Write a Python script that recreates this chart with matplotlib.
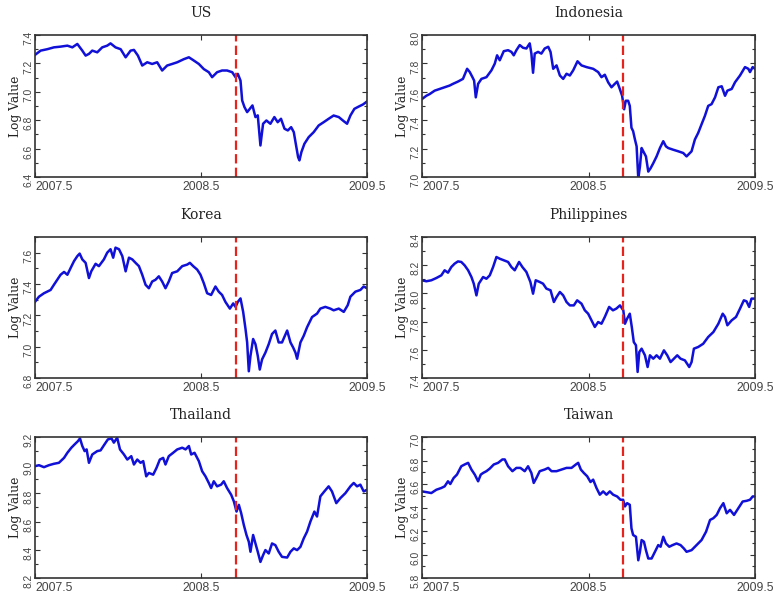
import matplotlib
matplotlib.use("Agg")
import matplotlib.pyplot as plt
from matplotlib.ticker import MultipleLocator, FormatStrFormatter

# Lehman collapse, marked on every panel
event_date = 2008.71

us_t = [2007.500, 2007.534, 2007.574, 2007.614, 2007.654, 2007.695, 2007.725, 2007.755, 2007.785, 2007.805,
        2007.825, 2007.845, 2007.875, 2007.905, 2007.935, 2007.955, 2007.985, 2008.016, 2008.046, 2008.076,
        2008.096, 2008.120, 2008.146, 2008.176, 2008.206, 2008.236, 2008.266, 2008.296, 2008.326, 2008.357,
        2008.397, 2008.427, 2008.457, 2008.487, 2008.517, 2008.547, 2008.567, 2008.597, 2008.627, 2008.657,
        2008.688, 2008.708, 2008.722, 2008.738, 2008.748, 2008.762, 2008.778, 2008.794, 2008.810, 2008.828,
        2008.842, 2008.858, 2008.874, 2008.894, 2008.918, 2008.942, 2008.962, 2008.982, 2009.003, 2009.023,
        2009.043, 2009.059, 2009.071, 2009.085, 2009.093, 2009.105, 2009.123, 2009.149, 2009.179, 2009.209,
        2009.239, 2009.269, 2009.299, 2009.330, 2009.360, 2009.380, 2009.400, 2009.424, 2009.450, 2009.476,
        2009.500]
us_v = [7.26, 7.29, 7.30, 7.313, 7.318, 7.325, 7.313, 7.337, 7.29, 7.255,
        7.267, 7.29, 7.278, 7.313, 7.325, 7.341, 7.313, 7.30, 7.243, 7.29,
        7.295, 7.255, 7.185, 7.208, 7.196, 7.208, 7.15, 7.185, 7.196, 7.208,
        7.23, 7.243, 7.22, 7.196, 7.16, 7.138, 7.103, 7.138, 7.15, 7.15,
        7.138, 7.103, 7.126, 7.079, 6.939, 6.892, 6.857, 6.88, 6.904, 6.822,
        6.834, 6.622, 6.775, 6.798, 6.775, 6.822, 6.786, 6.81, 6.74, 6.728,
        6.751, 6.716, 6.634, 6.54, 6.517, 6.576, 6.634, 6.681, 6.716, 6.763,
        6.786, 6.81, 6.833, 6.822, 6.793, 6.775, 6.833, 6.88, 6.896, 6.911,
        6.932]

ind_t = [2007.500, 2007.526, 2007.546, 2007.576, 2007.606, 2007.636, 2007.666, 2007.686, 2007.716, 2007.746,
         2007.771, 2007.787, 2007.803, 2007.813, 2007.823, 2007.837, 2007.857, 2007.887, 2007.917, 2007.937,
         2007.951, 2007.967, 2007.991, 2008.017, 2008.037, 2008.051, 2008.067, 2008.087, 2008.107, 2008.127,
         2008.147, 2008.157, 2008.167, 2008.177, 2008.197, 2008.217, 2008.237, 2008.258, 2008.272, 2008.288,
         2008.308, 2008.328, 2008.348, 2008.368, 2008.388, 2008.408, 2008.434, 2008.458, 2008.488, 2008.528,
         2008.558, 2008.578, 2008.598, 2008.618, 2008.638, 2008.658, 2008.672, 2008.688, 2008.702, 2008.714,
         2008.724, 2008.738, 2008.748, 2008.758, 2008.768, 2008.779, 2008.789, 2008.799, 2008.809, 2008.819,
         2008.829, 2008.845, 2008.859, 2008.873, 2008.889, 2008.909, 2008.929, 2008.949, 2008.965, 2008.979,
         2009.009, 2009.039, 2009.069, 2009.089, 2009.119, 2009.139, 2009.159, 2009.179, 2009.199, 2009.219,
         2009.239, 2009.260, 2009.280, 2009.300, 2009.320, 2009.334, 2009.360, 2009.380, 2009.410, 2009.440,
         2009.460, 2009.470, 2009.486, 2009.500]
ind_v = [7.549, 7.572, 7.584, 7.608, 7.62, 7.632, 7.644, 7.656, 7.672, 7.691,
         7.762, 7.739, 7.703, 7.679, 7.561, 7.656, 7.691, 7.703, 7.751, 7.798,
         7.857, 7.822, 7.886, 7.893, 7.881, 7.857, 7.893, 7.929, 7.91, 7.905,
         7.941, 7.869, 7.734, 7.869, 7.881, 7.869, 7.905, 7.917, 7.881, 7.762,
         7.786, 7.715, 7.691, 7.727, 7.715, 7.751, 7.815, 7.786, 7.774, 7.762,
         7.739, 7.703, 7.72, 7.667, 7.632, 7.656, 7.672, 7.62, 7.572, 7.477,
         7.537, 7.537, 7.501, 7.347, 7.323, 7.264, 7.216, 6.99, 7.074, 7.204,
         7.181, 7.145, 7.038, 7.062, 7.097, 7.145, 7.204, 7.252, 7.216, 7.204,
         7.192, 7.181, 7.169, 7.145, 7.181, 7.264, 7.311, 7.371, 7.43, 7.501,
         7.513, 7.561, 7.632, 7.639, 7.572, 7.608, 7.62, 7.667, 7.715, 7.774,
         7.762, 7.739, 7.774, 7.762]

kor_t = [2007.500, 2007.524, 2007.554, 2007.594, 2007.614, 2007.634, 2007.654, 2007.675, 2007.695, 2007.715,
         2007.735, 2007.755, 2007.769, 2007.785, 2007.805, 2007.825, 2007.839, 2007.865, 2007.885, 2007.915,
         2007.935, 2007.955, 2007.971, 2007.985, 2008.006, 2008.026, 2008.046, 2008.066, 2008.086, 2008.106,
         2008.126, 2008.146, 2008.166, 2008.186, 2008.206, 2008.226, 2008.246, 2008.266, 2008.286, 2008.306,
         2008.326, 2008.357, 2008.387, 2008.417, 2008.433, 2008.453, 2008.477, 2008.497, 2008.517, 2008.537,
         2008.561, 2008.587, 2008.607, 2008.627, 2008.647, 2008.674, 2008.694, 2008.708, 2008.722, 2008.738,
         2008.754, 2008.768, 2008.778, 2008.788, 2008.798, 2008.814, 2008.828, 2008.842, 2008.854, 2008.868,
         2008.888, 2008.908, 2008.928, 2008.948, 2008.968, 2008.988, 2009.019, 2009.039, 2009.055, 2009.069,
         2009.079, 2009.099, 2009.119, 2009.139, 2009.169, 2009.199, 2009.219, 2009.249, 2009.279, 2009.299,
         2009.330, 2009.360, 2009.384, 2009.400, 2009.430, 2009.460, 2009.480, 2009.500]
kor_v = [7.286, 7.319, 7.341, 7.362, 7.395, 7.427, 7.459, 7.477, 7.459, 7.503,
         7.546, 7.578, 7.594, 7.557, 7.535, 7.438, 7.481, 7.529, 7.514, 7.557,
         7.6, 7.622, 7.568, 7.632, 7.622, 7.578, 7.481, 7.568, 7.557, 7.535,
         7.514, 7.459, 7.395, 7.373, 7.416, 7.427, 7.449, 7.416, 7.373, 7.416,
         7.47, 7.481, 7.514, 7.524, 7.535, 7.514, 7.492, 7.459, 7.405, 7.341,
         7.33, 7.384, 7.351, 7.33, 7.286, 7.243, 7.276, 7.254, 7.286, 7.308,
         7.222, 7.114, 7.027, 6.843, 6.941, 7.049, 7.016, 6.941, 6.854, 6.919,
         6.962, 7.016, 7.081, 7.103, 7.027, 7.027, 7.103, 7.027, 6.995, 6.962,
         6.923, 7.027, 7.07, 7.124, 7.189, 7.211, 7.243, 7.254, 7.243, 7.232,
         7.243, 7.222, 7.265, 7.319, 7.351, 7.362, 7.384, 7.373]

phl_t = [2007.500, 2007.526, 2007.556, 2007.586, 2007.616, 2007.636, 2007.656, 2007.676, 2007.696, 2007.716,
         2007.736, 2007.756, 2007.777, 2007.797, 2007.811, 2007.827, 2007.841, 2007.867, 2007.887, 2007.907,
         2007.927, 2007.947, 2007.967, 2007.991, 2008.017, 2008.037, 2008.057, 2008.083, 2008.103, 2008.127,
         2008.151, 2008.167, 2008.183, 2008.207, 2008.227, 2008.247, 2008.272, 2008.292, 2008.308, 2008.328,
         2008.348, 2008.368, 2008.388, 2008.412, 2008.432, 2008.458, 2008.478, 2008.498, 2008.518, 2008.538,
         2008.558, 2008.578, 2008.598, 2008.624, 2008.647, 2008.667, 2008.689, 2008.709, 2008.719, 2008.732,
         2008.748, 2008.760, 2008.772, 2008.785, 2008.795, 2008.805, 2008.819, 2008.839, 2008.855, 2008.869,
         2008.889, 2008.909, 2008.929, 2008.953, 2008.973, 2008.993, 2009.013, 2009.033, 2009.053, 2009.079,
         2009.105, 2009.119, 2009.133, 2009.159, 2009.189, 2009.219, 2009.250, 2009.280, 2009.306, 2009.320,
         2009.334, 2009.360, 2009.386, 2009.410, 2009.433, 2009.449, 2009.465, 2009.479, 2009.500]
phl_v = [8.093, 8.086, 8.093, 8.109, 8.128, 8.164, 8.147, 8.187, 8.211, 8.227,
         8.223, 8.199, 8.164, 8.116, 8.069, 7.986, 8.069, 8.116, 8.104, 8.128,
         8.187, 8.258, 8.246, 8.235, 8.223, 8.187, 8.164, 8.223, 8.187, 8.152,
         8.081, 7.998, 8.093, 8.081, 8.069, 8.034, 8.022, 7.939, 7.974, 8.01,
         7.986, 7.939, 7.915, 7.915, 7.951, 7.927, 7.88, 7.856, 7.809, 7.762,
         7.797, 7.785, 7.833, 7.904, 7.88, 7.892, 7.915, 7.88, 7.785, 7.821,
         7.856, 7.762, 7.655, 7.632, 7.443, 7.584, 7.608, 7.561, 7.478, 7.561,
         7.537, 7.561, 7.537, 7.596, 7.561, 7.513, 7.537, 7.561, 7.537, 7.525,
         7.478, 7.513, 7.608, 7.62, 7.643, 7.691, 7.726, 7.785, 7.856, 7.833,
         7.774, 7.809, 7.833, 7.892, 7.951, 7.944, 7.904, 7.963, 7.963]

tha_t = [2007.500, 2007.524, 2007.554, 2007.584, 2007.614, 2007.644, 2007.675, 2007.695, 2007.719, 2007.739,
         2007.759, 2007.771, 2007.785, 2007.799, 2007.811, 2007.825, 2007.845, 2007.875, 2007.895, 2007.919,
         2007.939, 2007.961, 2007.975, 2007.995, 2008.012, 2008.036, 2008.056, 2008.080, 2008.096, 2008.116,
         2008.136, 2008.152, 2008.170, 2008.186, 2008.212, 2008.232, 2008.252, 2008.272, 2008.286, 2008.306,
         2008.332, 2008.357, 2008.387, 2008.407, 2008.427, 2008.441, 2008.461, 2008.487, 2008.507, 2008.527,
         2008.547, 2008.561, 2008.577, 2008.597, 2008.621, 2008.637, 2008.657, 2008.682, 2008.698, 2008.714,
         2008.728, 2008.742, 2008.758, 2008.774, 2008.788, 2008.798, 2008.814, 2008.828, 2008.842, 2008.858,
         2008.874, 2008.888, 2008.908, 2008.928, 2008.948, 2008.968, 2008.988, 2009.019, 2009.039, 2009.059,
         2009.079, 2009.099, 2009.119, 2009.139, 2009.159, 2009.183, 2009.199, 2009.219, 2009.243, 2009.269,
         2009.289, 2009.315, 2009.340, 2009.370, 2009.400, 2009.420, 2009.440, 2009.460, 2009.480, 2009.500]
tha_v = [8.993, 9.0, 8.986, 9.0, 9.01, 9.017, 9.052, 9.088, 9.124, 9.148,
         9.171, 9.19, 9.136, 9.1, 9.112, 9.017, 9.076, 9.1, 9.105, 9.148,
         9.183, 9.19, 9.16, 9.195, 9.112, 9.076, 9.04, 9.064, 9.005, 9.04,
         9.017, 9.029, 8.921, 8.945, 8.933, 8.981, 9.04, 9.052, 9.005, 9.064,
         9.088, 9.112, 9.124, 9.112, 9.136, 9.076, 9.088, 9.029, 8.957, 8.921,
         8.874, 8.838, 8.886, 8.85, 8.862, 8.886, 8.838, 8.79, 8.743, 8.671,
         8.719, 8.66, 8.576, 8.505, 8.457, 8.386, 8.505, 8.445, 8.386, 8.314,
         8.362, 8.398, 8.374, 8.445, 8.433, 8.386, 8.35, 8.345, 8.386, 8.41,
         8.398, 8.421, 8.481, 8.529, 8.6, 8.671, 8.636, 8.779, 8.814, 8.85,
         8.814, 8.731, 8.767, 8.802, 8.85, 8.874, 8.85, 8.862, 8.814, 8.826]

twn_t = [2007.500, 2007.526, 2007.556, 2007.586, 2007.616, 2007.636, 2007.656, 2007.670, 2007.690, 2007.710,
         2007.736, 2007.756, 2007.777, 2007.797, 2007.817, 2007.837, 2007.853, 2007.867, 2007.887, 2007.907,
         2007.931, 2007.957, 2007.983, 2007.997, 2008.017, 2008.043, 2008.067, 2008.091, 2008.117, 2008.137,
         2008.157, 2008.171, 2008.187, 2008.207, 2008.237, 2008.258, 2008.278, 2008.308, 2008.338, 2008.368,
         2008.398, 2008.424, 2008.438, 2008.454, 2008.472, 2008.492, 2008.512, 2008.528, 2008.548, 2008.568,
         2008.588, 2008.608, 2008.628, 2008.648, 2008.672, 2008.692, 2008.708, 2008.719, 2008.732, 2008.748,
         2008.758, 2008.768, 2008.785, 2008.799, 2008.809, 2008.819, 2008.833, 2008.845, 2008.859, 2008.879,
         2008.899, 2008.919, 2008.933, 2008.949, 2008.965, 2008.985, 2009.005, 2009.029, 2009.053, 2009.073,
         2009.089, 2009.119, 2009.149, 2009.179, 2009.206, 2009.230, 2009.250, 2009.270, 2009.290, 2009.310,
         2009.330, 2009.350, 2009.374, 2009.400, 2009.426, 2009.450, 2009.470, 2009.486, 2009.500]
twn_v = [6.537, 6.531, 6.523, 6.551, 6.566, 6.58, 6.623, 6.6, 6.651, 6.68,
         6.751, 6.766, 6.78, 6.723, 6.68, 6.623, 6.68, 6.694, 6.709, 6.731,
         6.766, 6.78, 6.809, 6.809, 6.751, 6.709, 6.737, 6.737, 6.709, 6.751,
         6.694, 6.609, 6.651, 6.709, 6.723, 6.737, 6.709, 6.709, 6.723, 6.737,
         6.737, 6.766, 6.78, 6.723, 6.694, 6.666, 6.617, 6.637, 6.566, 6.509,
         6.537, 6.509, 6.537, 6.509, 6.494, 6.466, 6.466, 6.409, 6.437, 6.423,
         6.223, 6.166, 6.151, 5.951, 6.023, 6.123, 6.109, 6.037, 5.966, 5.966,
         6.023, 6.08, 6.066, 6.151, 6.094, 6.066, 6.08, 6.094, 6.08, 6.051,
         6.023, 6.037, 6.08, 6.123, 6.194, 6.294, 6.309, 6.337, 6.394, 6.437,
         6.351, 6.38, 6.337, 6.394, 6.451, 6.457, 6.466, 6.494, 6.494]

x_ticks = [2007.5, 2008.5, 2009.5]
x_labels = ["2007.5", "2008.5", "2009.5"]

# name, dates, values, y-range
panels = [
    ("US", us_t, us_v, (6.4, 7.4)),
    ("Indonesia", ind_t, ind_v, (7.0, 8.0)),
    ("Korea", kor_t, kor_v, (6.8, 7.7)),
    ("Philippines", phl_t, phl_v, (7.4, 8.4)),
    ("Thailand", tha_t, tha_v, (8.2, 9.2)),
    ("Taiwan", twn_t, twn_v, (5.8, 7.0)),
]

W, H = 774, 600
col_left = [35, 422]
col_width = [332, 333]
row_top = [35, 237, 437]
row_height = [142, 141, 141]

serif = "DejaVu Serif"
sans = "Liberation Sans"
edge = "#333333"


def draw_panel(ax, name, t, v, ylim):
    ax.plot(t, v, color="#1010d8", linewidth=1.8, solid_joinstyle="round")
    ax.axvline(event_date, color="#e8231e", linewidth=1.6, dashes=(4.2, 1.9))
    ax.set_xlim(2007.5, 2009.5)
    ax.set_ylim(*ylim)

    ax.set_xticks(x_ticks)
    ax.set_xticklabels(x_labels, fontfamily=sans, fontsize=8.8, color="#444444")
    ax.get_xticklabels()[0].set_horizontalalignment("left")

    ax.yaxis.set_major_locator(MultipleLocator(0.2))
    ax.yaxis.set_minor_locator(MultipleLocator(0.1))
    ax.yaxis.set_major_formatter(FormatStrFormatter("%.1f"))
    for lab in ax.get_yticklabels():
        lab.set_fontfamily(sans)
    ax.tick_params(axis="y", which="major", labelrotation=90, labelsize=7.4,
                   labelcolor="#444444", pad=1.2)
    ax.tick_params(which="both", direction="in", top=True, right=True,
                   color=edge, width=0.8)
    ax.tick_params(which="major", length=3.5)
    ax.tick_params(which="minor", length=2)
    ax.tick_params(axis="x", pad=3)

    for sp in ax.spines.values():
        sp.set_color(edge)
        sp.set_linewidth(1.2)

    ax.set_title(name, fontfamily=serif, fontsize=10, pad=13, color="#222222")
    ax.set_ylabel("Log Value", fontfamily=serif, fontsize=8.8, color="#222222")
    ax.yaxis.set_label_coords(-0.04, 0.5)


fig = plt.figure(figsize=(W / 100, H / 100), dpi=100)
for i, (name, t, v, ylim) in enumerate(panels):
    r, c = divmod(i, 2)
    rect = [col_left[c] / W, 1 - (row_top[r] + row_height[r]) / H,
            col_width[c] / W, row_height[r] / H]
    ax = fig.add_axes(rect)
    draw_panel(ax, name, t, v, ylim)

fig.savefig("out.png", dpi=100)
